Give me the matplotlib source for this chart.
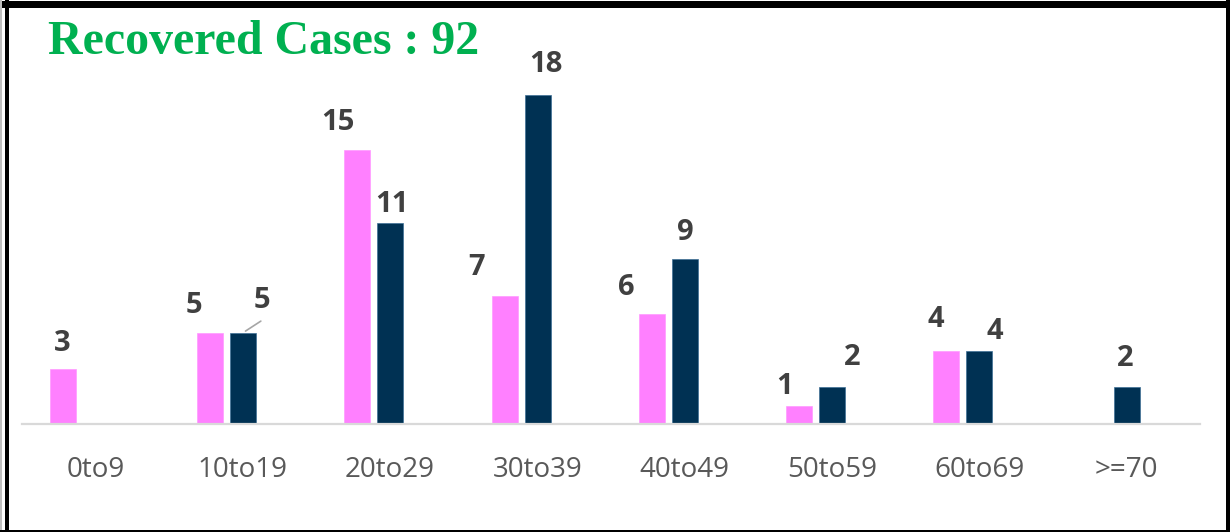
import numpy as np
import matplotlib
matplotlib.use("Agg")
import matplotlib.pyplot as plt
from matplotlib.lines import Line2D

# data
age_groups = ["0to9", "10to19", "20to29", "30to39", "40to49", "50to59", "60to69", ">=70"]
pink_vals = [3, 5, 15, 7, 6, 1, 4, 0]
navy_vals = [0, 5, 11, 18, 9, 2, 4, 2]
title = "Recovered Cases : 92"

# hand-placed label offsets in pixels (dx, dy from bar top), like the excel original
pink_offsets = [(-1, 18), (-16, 20), (-20, 20), (-28, 21), (-26, 19), (-15, 12), (-11, 24), (0, 0)]
navy_offsets = [(0, 0), (19, 25), (2, 11), (8, 23), (0, 19), (20, 22), (15, 12), (-1, 21)]

PINK = "#FF80FF"
NAVY = "#003153"
W, H = 1230, 532

fig = plt.figure(figsize=(W / 100, H / 100), dpi=100)
ax = fig.add_axes([22 / W, 108 / H, (1200 - 22) / W, 404 / H])

x = np.arange(len(age_groups))
shift = -0.11
bw = 0.177
gap = 0.224
pb = ax.bar(x + shift - gap / 2, pink_vals, bw, color=PINK, edgecolor="#ff99ff", linewidth=0.5)
nb = ax.bar(x + shift + gap / 2, navy_vals, bw, color=NAVY, edgecolor="#3d6f96", linewidth=0.5)

lab_kw = dict(textcoords="offset pixels", ha="center", va="baseline", fontsize=21,
              fontweight="bold", color="#404040", family="Open Sans")
for i, v in enumerate(pink_vals):
    if v > 0:
        dx, dy = pink_offsets[i]
        ax.annotate(str(v), (x[i] + shift - gap / 2, v), xytext=(dx, dy), **lab_kw)
for i, v in enumerate(navy_vals):
    if v > 0:
        dx, dy = navy_offsets[i]
        ax.annotate(str(v), (x[i] + shift + gap / 2, v), xytext=(dx, dy), **lab_kw)

# leader line for the 10to19 navy label
ax.annotate("", (x[1] + shift + gap / 2, navy_vals[1]), xytext=(20, 13), textcoords="offset pixels",
            arrowprops=dict(arrowstyle="-", color="#a6a6a6", lw=1.2))

ax.set_xlim(-0.5, len(age_groups) - 0.5)
ax.set_ylim(0, 22.1)
ax.set_xticks(x)
ax.set_xticklabels(age_groups, fontsize=20, color="#595959", family="Open Sans")
ax.tick_params(axis="x", length=0, pad=23)
ax.set_yticks([])
for s in ["top", "right", "left"]:
    ax.spines[s].set_visible(False)
ax.spines["bottom"].set_color("#d9d9d9")
ax.spines["bottom"].set_linewidth(1.6)

fig.text(48 / W, 1 - 54 / H, title, fontsize=34.5, fontweight="bold", color="#00B050",
         family="Liberation Serif", ha="left", va="baseline")

# black frame around the chart
fig.add_artist(Line2D([0, 1], [1 - 3.5 / H, 1 - 3.5 / H], transform=fig.transFigure, color="black", lw=7 * 0.72))
fig.add_artist(Line2D([7 / W, 7 / W], [0, 1], transform=fig.transFigure, color="black", lw=4 * 0.72))
fig.add_artist(Line2D([1 / W, 1 / W], [0, 1], transform=fig.transFigure, color="#bfbfbf", lw=2 * 0.72))
fig.add_artist(Line2D([1227.5 / W, 1227.5 / W], [0, 1], transform=fig.transFigure, color="black", lw=5 * 0.72))
fig.add_artist(Line2D([0, 1], [1 / H, 1 / H], transform=fig.transFigure, color="black", lw=3 * 0.72))

fig.savefig("out.png", dpi=100)
